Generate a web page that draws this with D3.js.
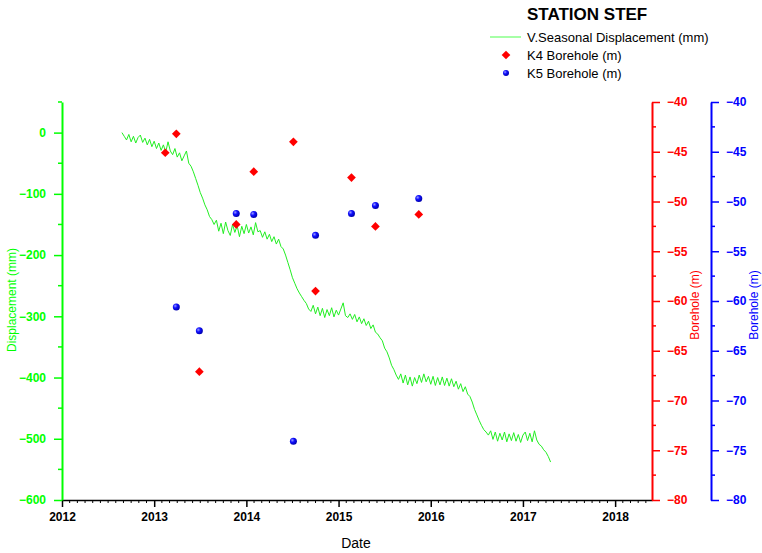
<!DOCTYPE html>
<html>
<head>
<meta charset="utf-8">
<script src="https://cdn.jsdelivr.net/npm/d3@7"></script>
<style>
  body { margin: 0; background: #fff; }
  text { font-family: "Liberation Sans", Arial, sans-serif; }
</style>
</head>
<body>
<svg id="chart" width="762" height="553"></svg>
<script>
// V.Seasonal displacement (mm), sampled every dispStep years from dispStart
var dispStart = 2012.65;
var dispStep = 0.025;
var dispValues = [
  0, -6, -12, -3, -15, -6, -17, -8, -4, -16, -9, -20, -11, -23, -14, -26, -17, -29, -20, -32,
  -15, -30, -36, -26, -40, -33, -46, -38, -30, -50, -55, -64, -75, -86, -98, -107, -118, -126, -137, -142,
  -150, -143, -161, -148, -165, -146, -160, -168, -150, -163, -152, -170, -153, -165, -150, -164, -154, -167, -147, -162,
  -160, -171, -162, -174, -166, -178, -170, -182, -174,
  -186, -190, -200, -212, -224, -237, -246, -255, -262, -268, -274,
  -279, -288, -292, -282, -296, -285, -299, -287, -302, -289, -299, -286, -301, -290, -298, -288, -278, -299, -302, -296,
  -305, -297, -309, -301, -312, -304, -315, -308, -320, -314, -326, -329, -335, -340, -352, -358, -368, -380, -387, -396,
  -403, -394, -409, -396, -412, -399, -414, -400, -410, -396, -408, -394, -407, -398, -411, -398, -413, -400, -412, -399,
  -413, -401, -414, -402, -415, -406, -419, -410, -423, -415,
  -427, -431, -440, -452, -461, -470, -478, -485, -489, -494,
  -487, -501, -489, -504, -491, -502, -489, -505, -492, -503, -490, -504, -493, -506, -494, -489, -503, -491, -505, -487,
  -502, -509, -512, -518, -522, -529, -538
];

// borehole measurements (decimal year, depth m)
var k4Dates  = [2013.12, 2013.24, 2013.49, 2013.89, 2014.08, 2014.51, 2014.75, 2015.14, 2015.40, 2015.87];
var k4Values = [-45.1, -43.2, -67.1, -52.3, -47.0, -44.0, -59.0, -47.6, -52.5, -51.3];
var k5Dates  = [2013.24, 2013.49, 2013.89, 2014.08, 2014.51, 2014.75, 2015.14, 2015.40, 2015.87];
var k5Values = [-60.6, -63.0, -51.2, -51.3, -74.1, -53.4, -51.2, -50.4, -49.7];

var yearTicks = [2012, 2013, 2014, 2015, 2016, 2017, 2018];
var dispTicks = [0, -100, -200, -300, -400, -500, -600];
var boreTicks = [-40, -45, -50, -55, -60, -65, -70, -75, -80];

var svg = d3.select('#chart');
var green = '#00ff00', red = '#ff0000', blue = '#0000ff';

var x = d3.scaleLinear().domain([2012, 2018.4]).range([62, 652]);
var yDisp = d3.scaleLinear().domain([-600, 50]).range([500, 102]);
var yBore = d3.scaleLinear().domain([-80, -40]).range([500, 102]);

var defs = svg.append('defs');
var grad = defs.append('radialGradient').attr('id', 'ball')
  .attr('cx', '35%').attr('cy', '35%').attr('r', '65%');
grad.append('stop').attr('offset', '0%').attr('stop-color', '#9a9aff');
grad.append('stop').attr('offset', '45%').attr('stop-color', '#1010ff');
grad.append('stop').attr('offset', '100%').attr('stop-color', '#0000b0');

var diamond = d3.symbol().type(d3.symbolSquare).size(38);

function styleAxis(g, color, bold) {
  g.select('.domain').attr('stroke', color).attr('stroke-width', 2);
  g.selectAll('.tick line').attr('stroke', color).attr('stroke-width', 1.5);
  g.selectAll('.tick text').attr('fill', color)
    .style('font-size', '12px').style('font-weight', bold ? 'bold' : 'normal')
    .style('font-family', '"Liberation Sans", Arial, sans-serif');
}

// minor ticks
function minor(g, scale, values, len, dir, color) {
  g.selectAll('.minor').data(values).enter().append('line')
    .attr('class', 'minor')
    .attr('x1', 0).attr('x2', dir * len)
    .attr('y1', function(d) { return scale(d); })
    .attr('y2', function(d) { return scale(d); })
    .attr('stroke', color).attr('stroke-width', 1.5);
}

// x axis
var months = [];
for (var yr = 2012; yr < 2018.4; yr++) {
  for (var m = 1; m < 12; m++) {
    if (yr + m / 12 < 2018.4) months.push(yr + m / 12);
  }
}
var gx = svg.append('g').attr('transform', 'translate(0,500)');
gx.selectAll('.minorx').data(months).enter().append('line')
  .attr('x1', function(d) { return x(d); }).attr('x2', function(d) { return x(d); })
  .attr('y1', 0).attr('y2', 3).attr('stroke', '#000').attr('stroke-width', 1);
gx.call(d3.axisBottom(x).tickValues(yearTicks).tickFormat(d3.format('d'))
  .tickSizeInner(7).tickSizeOuter(0).tickPadding(5));
gx.select('.domain').attr('stroke', '#000').attr('stroke-width', 1.5);
gx.selectAll('.tick line').attr('stroke', '#000').attr('stroke-width', 1.5);
gx.selectAll('.tick text').attr('fill', '#000').style('font-size', '12px').style('font-weight', 'bold');

// left axis
var gl = svg.append('g').attr('transform', 'translate(62,0)');
minor(gl, yDisp, [50, -50, -150, -250, -350, -450, -550], 4, -1, green);
gl.call(d3.axisLeft(yDisp).tickValues(dispTicks).tickSizeInner(8).tickSizeOuter(0).tickPadding(8));
styleAxis(gl, green, true);

// red right axis
var gr = svg.append('g').attr('transform', 'translate(652,0)');
minor(gr, yBore, [-42.5, -47.5, -52.5, -57.5, -62.5, -67.5, -72.5, -77.5], 4, 1, red);
gr.call(d3.axisRight(yBore).tickValues(boreTicks).tickSizeInner(8).tickSizeOuter(0).tickPadding(7));
styleAxis(gr, red, true);

// blue right axis
var gb = svg.append('g').attr('transform', 'translate(711,0)');
minor(gb, yBore, [-42.5, -47.5, -52.5, -57.5, -62.5, -67.5, -72.5, -77.5], 4, 1, blue);
gb.call(d3.axisRight(yBore).tickValues(boreTicks).tickSizeInner(8).tickSizeOuter(0).tickPadding(7));
styleAxis(gb, blue, true);

// axis titles
svg.append('text').attr('transform', 'translate(16,300) rotate(-90)')
  .attr('text-anchor', 'middle').attr('fill', green).style('font-size', '12px')
  .text('Displacement (mm)');
svg.append('text').attr('transform', 'translate(699,305) rotate(-90)')
  .attr('text-anchor', 'middle').attr('fill', red).style('font-size', '12px')
  .text('Borehole (m)');
svg.append('text').attr('transform', 'translate(758,305) rotate(-90)')
  .attr('text-anchor', 'middle').attr('fill', blue).style('font-size', '12px')
  .text('Borehole (m)');
svg.append('text').attr('x', 356).attr('y', 548)
  .attr('text-anchor', 'middle').attr('fill', '#000').style('font-size', '14px')
  .text('Date');

// displacement line
var line = d3.line()
  .x(function(d, i) { return x(dispStart + i * dispStep); })
  .y(function(d) { return yDisp(d); });
svg.append('path').datum(dispValues)
  .attr('d', line).attr('fill', 'none')
  .attr('stroke', '#22ee22').attr('stroke-width', 1);

// K4 diamonds
svg.selectAll('.k4').data(k4Values).enter().append('path')
  .attr('class', 'k4')
  .attr('d', diamond)
  .attr('transform', function(d, i) { return 'translate(' + x(k4Dates[i]) + ',' + yBore(d) + ') rotate(45)'; })
  .attr('fill', red);

// K5 balls
svg.selectAll('.k5').data(k5Values).enter().append('circle')
  .attr('class', 'k5')
  .attr('cx', function(d, i) { return x(k5Dates[i]); })
  .attr('cy', function(d) { return yBore(d); })
  .attr('r', 3.5)
  .attr('fill', 'url(#ball)');

// title + legend
svg.append('text').attr('x', 527).attr('y', 20)
  .style('font-size', '17px').style('font-weight', 'bold').attr('fill', '#000')
  .text('STATION STEF');
var leg = svg.append('g');
leg.append('line').attr('x1', 490).attr('x2', 521).attr('y1', 37).attr('y2', 37)
  .attr('stroke', '#88ff88').attr('stroke-width', 1.5);
leg.append('text').attr('x', 527).attr('y', 42).style('font-size', '13px').text('V.Seasonal Displacement (mm)');
leg.append('path').attr('d', diamond)
  .attr('transform', 'translate(506,55) rotate(45)').attr('fill', red);
leg.append('text').attr('x', 527).attr('y', 60).style('font-size', '13px').text('K4 Borehole (m)');
leg.append('circle').attr('cx', 506).attr('cy', 73).attr('r', 3).attr('fill', 'url(#ball)');
leg.append('text').attr('x', 527).attr('y', 78).style('font-size', '13px').text('K5 Borehole (m)');
</script>
</body>
</html>
